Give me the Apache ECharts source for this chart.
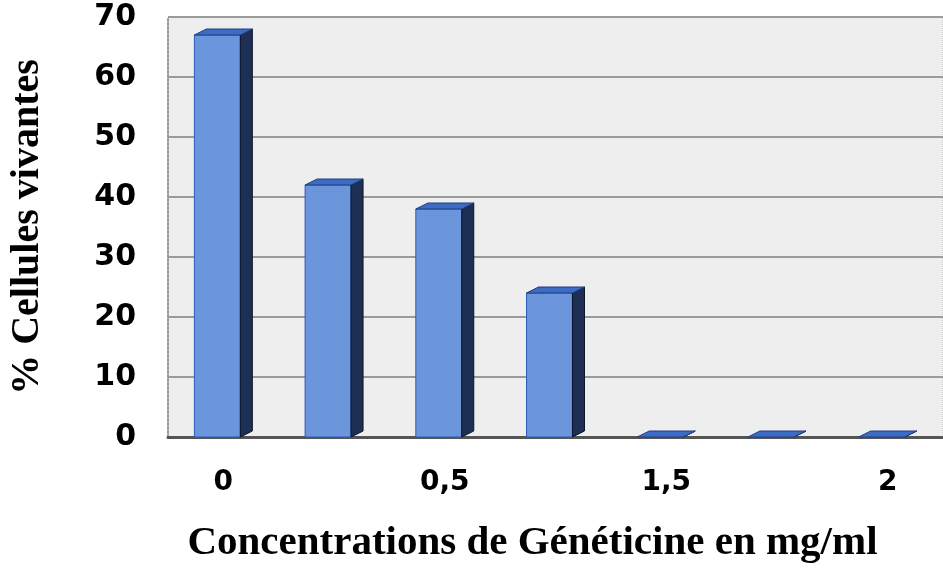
<!DOCTYPE html>
<html>
<head>
<meta charset="utf-8">
<script src="https://cdn.jsdelivr.net/npm/echarts@6/dist/echarts.min.js"></script>
<style>
  html, body { margin: 0; padding: 0; background: #fff; }
  #chart { width: 943px; height: 571px; }
</style>
</head>
<body>
<div id="chart"></div>
<script>
// concentrations (only every other one is labelled on the picture)
var categories = ['0', '', '0,5', '', '1,5', '', '2'];
// % cellules vivantes
var values = [67, 42, 38, 24, 0, 0, 0];
var yTicks = [0, 10, 20, 30, 40, 50, 60, 70];

var DX = 12, DY = 6; // fake depth of the bars

function renderBar(params, api) {
  var bottom = api.coord([api.value(0), 0]);
  var top = api.coord([api.value(0), api.value(1)]);
  var band = api.size([1, 0])[0];
  var w = band * 0.415;
  var x0 = bottom[0] - (w + DX) / 2;
  var x1 = x0 + w;
  var yb = bottom[1], yt = top[1];
  return {
    type: 'group',
    children: [
      { // front
        type: 'rect',
        shape: { x: x0, y: yt, width: w, height: yb - yt },
        style: { fill: '#6b96dc', stroke: '#2a5cb8', lineWidth: 1 }
      },
      { // side
        type: 'polygon',
        shape: { points: [[x1, yt], [x1 + DX, yt - DY], [x1 + DX, yb - DY], [x1, yb]] },
        style: { fill: '#1d2f55', stroke: '#0b1426', lineWidth: 1 }
      },
      { // top
        type: 'polygon',
        shape: { points: [[x0, yt], [x0 + DX, yt - DY], [x1 + DX, yt - DY], [x1, yt]] },
        style: { fill: '#3d6cc4', stroke: '#1e3f80', lineWidth: 1 }
      }
    ]
  };
}

var chart = echarts.init(document.getElementById('chart'));
chart.setOption({
  animation: false,
  backgroundColor: '#ffffff',
  grid: {
    left: 168, right: 0, top: 17, bottom: 134,
    show: true,
    backgroundColor: '#eeeeee',
    borderColor: '#b8b8b8',
    borderWidth: 1,
    borderType: 'dotted'
  },
  xAxis: {
    type: 'category',
    data: categories,
    name: 'Concentrations de Généticine en mg/ml',
    nameLocation: 'middle',
    nameGap: 86,
    nameTextStyle: {
      fontFamily: 'Liberation Serif',
      fontWeight: 'bold',
      fontSize: 41,
      color: '#000',
      padding: [0, 46, 0, 0]
    },
    axisTick: { show: false },
    axisLine: { lineStyle: { color: '#555', width: 3 } },
    axisLabel: {
      interval: 0,
      margin: 32,
      fontFamily: 'DejaVu Sans',
      fontWeight: 'bold',
      fontSize: 28,
      color: '#000'
    }
  },
  yAxis: {
    type: 'value',
    min: yTicks[0],
    max: yTicks[yTicks.length - 1],
    interval: 10,
    name: '% Cellules vivantes',
    nameLocation: 'middle',
    nameRotate: 90,
    nameGap: 120,
    nameTextStyle: {
      fontFamily: 'Liberation Serif',
      fontWeight: 'bold',
      fontSize: 40,
      color: '#000'
    },
    axisLine: { show: true, lineStyle: { color: '#999', type: 'dotted', width: 2 } },
    axisTick: { show: false },
    splitLine: { lineStyle: { color: '#9a9a9a', width: 2 } },
    axisLabel: {
      margin: 32,
      fontFamily: 'DejaVu Sans',
      fontWeight: 'bold',
      fontSize: 30,
      color: '#000'
    }
  },
  series: [{
    type: 'custom',
    renderItem: renderBar,
    encode: { x: 0, y: 1 },
    data: values.map(function (v, i) { return [i, v]; })
  }]
});
</script>
</body>
</html>
